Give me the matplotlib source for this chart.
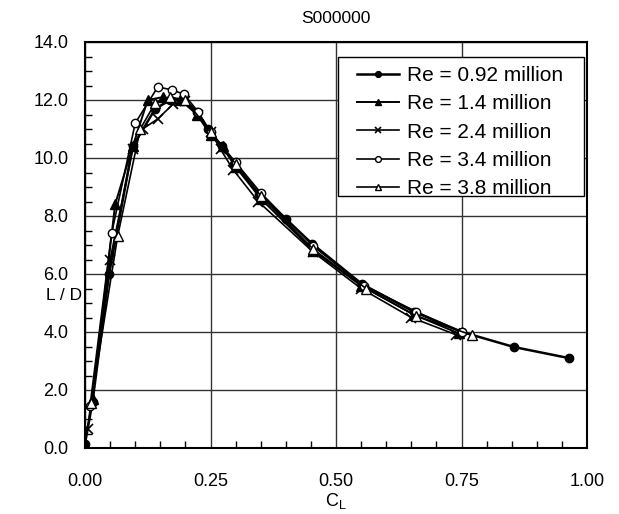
import matplotlib
matplotlib.use("Agg")
import matplotlib.pyplot as plt
from matplotlib.ticker import MultipleLocator, FormatStrFormatter
from matplotlib.patches import Rectangle

plt.rcParams['font.family'] = ['Liberation Sans', 'DejaVu Sans']

title = "S000000"
labels = ["Re = 0.92 million", "Re = 1.4 million", "Re = 2.4 million",
          "Re = 3.4 million", "Re = 3.8 million"]

cl_092 = [0.0, 0.015, 0.048, 0.095, 0.14, 0.17, 0.195, 0.223, 0.245, 0.273, 0.297, 0.347,
          0.40, 0.452, 0.552, 0.655, 0.751, 0.855, 0.964]
ld_092 = [0.15, 1.6, 6.0, 10.4, 11.7, 12.0, 12.05, 11.6, 11.0, 10.4, 9.8, 8.75,
          7.9, 7.05, 5.65, 4.7, 4.0, 3.48, 3.1]

cl_14 = [0.015, 0.06, 0.095, 0.125, 0.155, 0.19, 0.223, 0.25, 0.275, 0.30, 0.35,
         0.455, 0.55, 0.655, 0.745]
ld_14 = [1.7, 8.4, 10.4, 12.0, 12.1, 12.0, 11.5, 10.8, 10.4, 9.7, 8.6,
         6.8, 5.6, 4.6, 3.95]

cl_24 = [0.005, 0.05, 0.095, 0.115, 0.145, 0.175, 0.2, 0.225, 0.25, 0.27, 0.295,
         0.345, 0.455, 0.55, 0.65, 0.74]
ld_24 = [0.65, 6.5, 10.3, 11.0, 11.35, 11.85, 11.95, 11.5, 10.9, 10.3, 9.6,
         8.5, 6.75, 5.5, 4.5, 3.9]

cl_34 = [0.01, 0.053, 0.10, 0.145, 0.173, 0.197, 0.225, 0.25, 0.30, 0.35,
         0.455, 0.555, 0.66, 0.75]
ld_34 = [1.45, 7.4, 11.2, 12.45, 12.35, 12.2, 11.6, 10.9, 9.85, 8.8,
         6.95, 5.6, 4.7, 4.0]

cl_38 = [0.012, 0.065, 0.11, 0.14, 0.17, 0.2, 0.25, 0.3, 0.35, 0.455, 0.56, 0.66, 0.77]
ld_38 = [1.55, 7.3, 11.0, 11.9, 12.1, 12.0, 10.9, 9.8, 8.7, 6.85, 5.5, 4.55, 3.9]

W, H = 619, 514
fig = plt.figure(figsize=(W/100, H/100), dpi=100)
ax = fig.add_axes([85/W, 1-448/H, 502/W, 406/H])

ax.plot(cl_092, ld_092, color='black', lw=1.8, marker='o', ms=6, mfc='black', mec='black', label=labels[0], zorder=5)
ax.plot(cl_14, ld_14, color='black', lw=1.4, marker='^', ms=7, mfc='black', mec='black', label=labels[1], zorder=4)
ax.plot(cl_24, ld_24, color='black', lw=1.2, marker='x', ms=7, mew=1.2, mec='black', label=labels[2], zorder=3)
ax.plot(cl_34, ld_34, color='black', lw=1.2, marker='o', ms=6, mfc='white', mec='black', mew=1.0, label=labels[3], zorder=6)
ax.plot(cl_38, ld_38, color='black', lw=1.2, marker='^', ms=7, mfc='white', mec='black', mew=1.0, label=labels[4], zorder=6)

ax.set_xlim(0, 1.0)
ax.set_ylim(0, 14.0)
ax.xaxis.set_major_locator(MultipleLocator(0.25))
ax.xaxis.set_minor_locator(MultipleLocator(0.05))
ax.yaxis.set_major_locator(MultipleLocator(2.0))
ax.yaxis.set_minor_locator(MultipleLocator(0.5))
ax.xaxis.set_major_formatter(FormatStrFormatter('%.2f'))
ax.yaxis.set_major_formatter(FormatStrFormatter('%.1f'))
ax.tick_params(which='both', direction='in', labelsize=13, colors='black')
ax.tick_params(axis='y', which='major', length=0, pad=12)
ax.tick_params(axis='x', which='major', length=0, pad=18)
ax.tick_params(which='minor', length=5, width=1)
ax.grid(True, which='major', color='#333333', lw=1.0)
ax.set_axisbelow(True)
for s in ax.spines.values():
    s.set_linewidth(1.5)

ax.set_title(title, fontsize=12.5, pad=14)
ax.set_xlabel("C$_\\mathregular{L}$", fontsize=13, labelpad=1)
fig.text(64/W, 1-296/H, "L / D", fontsize=12.5, ha='center', va='center')

# legend frame drawn as a separate box
x0, x1 = (338-85)/502, (584-85)/502
y0, y1 = (448-196)/406, (448-57)/406
ax.add_patch(Rectangle((x0, y0), x1-x0, y1-y0, transform=ax.transAxes,
                       facecolor='white', edgecolor='black', lw=1.0, zorder=10))
ax_anchor = ((356-85)/502, (448-66)/406)
leg = ax.legend(loc='upper left', bbox_to_anchor=ax_anchor, fontsize=15,
                frameon=False, borderaxespad=0, borderpad=0,
                handlelength=2.0, handletextpad=0.4, labelspacing=0.45,
                markerscale=0.7)
leg.set_zorder(11)

# align first handle line start to x = 357 px
fig.canvas.draw()
hl = leg.legend_handles[0]
xs = hl.get_xdata()
tr = hl.get_transform()
px0 = tr.transform((min(xs), 0))[0]
dx = (357 - px0) / 502
leg.set_bbox_to_anchor((ax_anchor[0] + dx, ax_anchor[1]), transform=ax.transAxes)

fig.savefig("out.png", dpi=100)
